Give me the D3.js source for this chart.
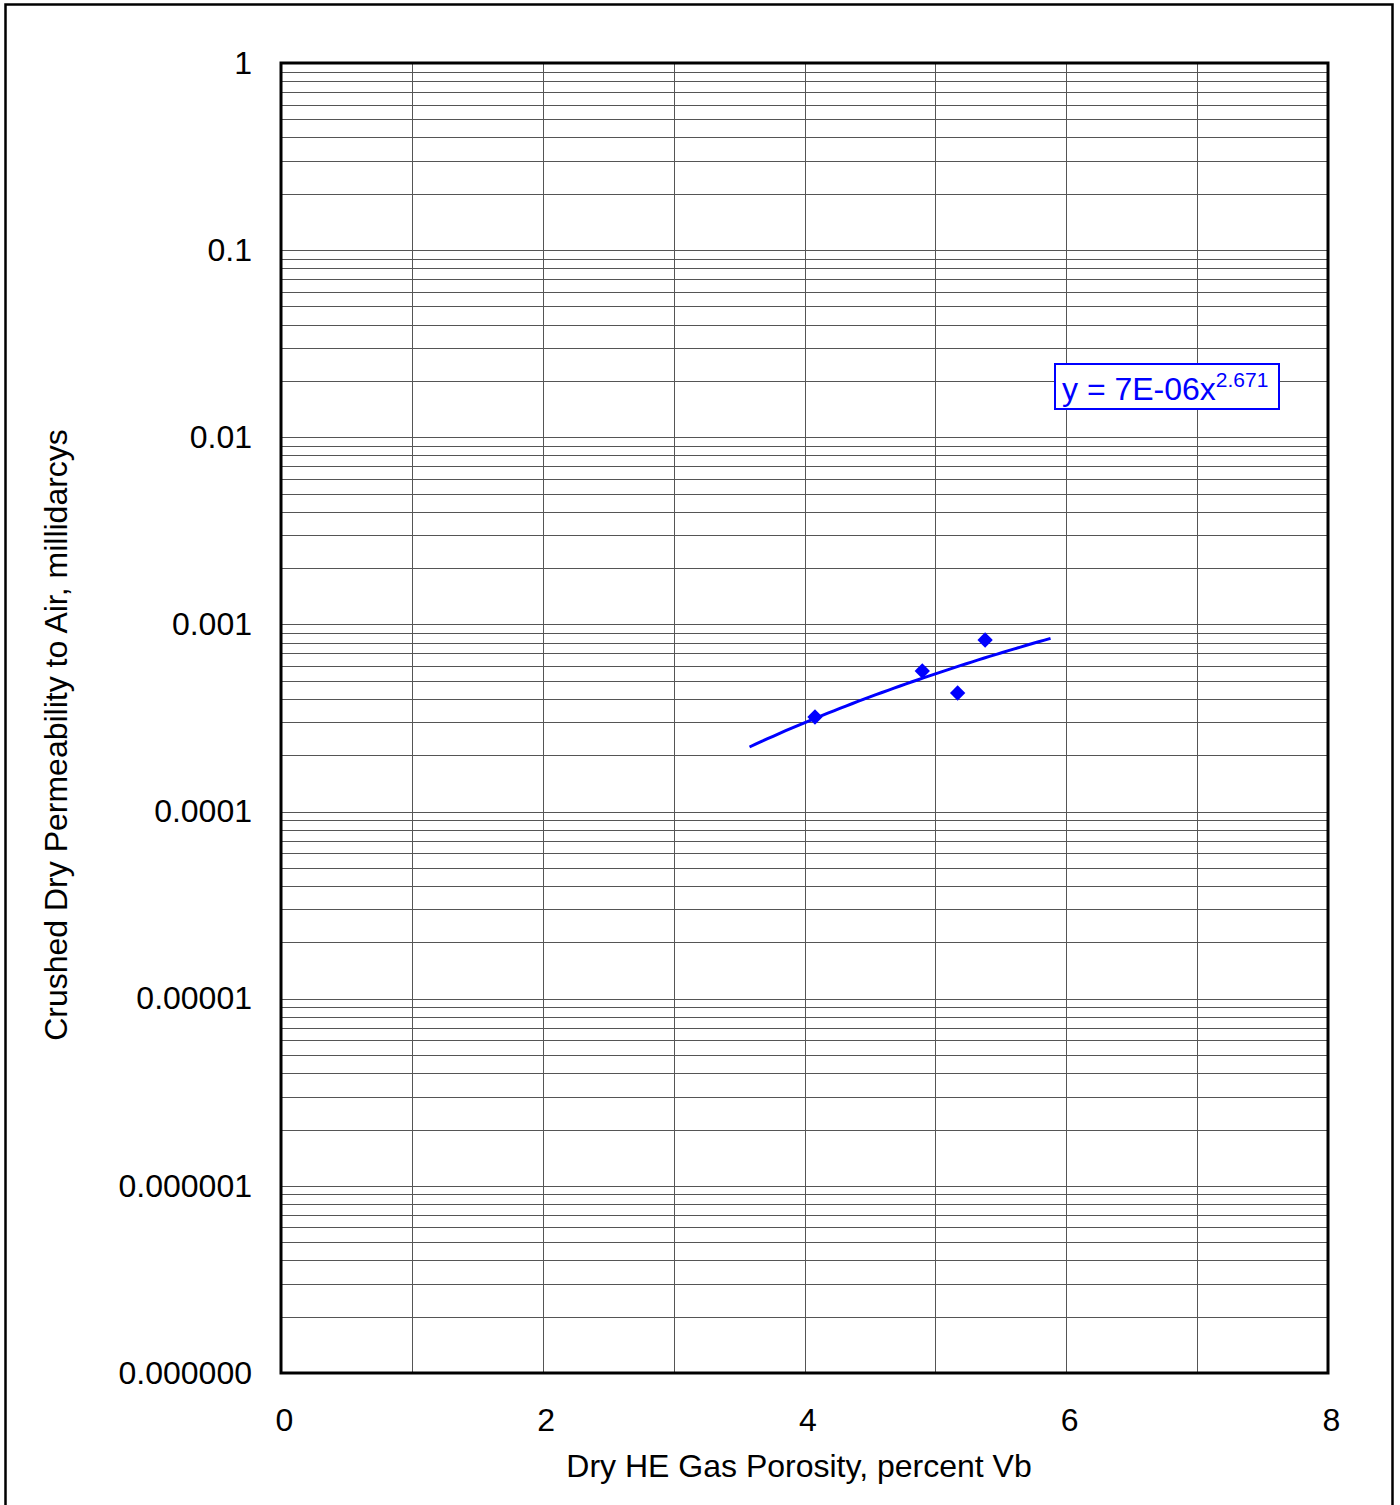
<!DOCTYPE html>
<html>
<head>
<meta charset="utf-8">
<script src="https://cdn.jsdelivr.net/npm/d3@7"></script>
<style>
  body { margin: 0; background: #fff; }
  svg { display: block; font-family: 'Liberation Sans', Arial, sans-serif; }
</style>
</head>
<body>
<svg></svg>
<script>
// data
const porosity = [4.08, 4.90, 5.17, 5.38]
const permeability = [0.00032, 0.000564, 0.00043, 0.000826]
const xTicks = [0, 2, 4, 6, 8]
const yTicks = [1e-7, 1e-6, 1e-5, 1e-4, 1e-3, 1e-2, 1e-1, 1]
const yTickLabels = ['0.000000', '0.000001', '0.00001', '0.0001', '0.001', '0.01', '0.1', '1']
const trendForecast = [0.5, 0.5] // backward, forward
const equationText = 'y = 7E-06x'
const equationPower = '2.671'

const width = 1400
const height = 1505
const plot = { left: 281, top: 63, right: 1328, bottom: 1373 }
const blue = '#0000ff'
const fontSize = 32

const svg = d3.select('svg')
  .attr('width', width)
  .attr('height', height)

// outer frame (bottom edge runs off the page)
svg.append('rect')
  .attr('x', 5.5).attr('y', 4.5)
  .attr('width', 1387).attr('height', 1520)
  .attr('fill', 'none')
  .attr('stroke', '#000')
  .attr('stroke-width', 2.5)

const xScale = d3.scaleLinear().domain([0, 8]).range([plot.left, plot.right])
const yScale = d3.scaleLog().domain([1e-7, 1]).range([plot.bottom, plot.top])

// gridlines: minor 2..9 in each decade plus decades
const hLines = []
for (let e = -7; e < 0; e++) {
  for (let k = 1; k <= 9; k++) hLines.push(k * Math.pow(10, e))
}
const grid = svg.append('g').attr('shape-rendering', 'crispEdges')
grid.selectAll('.hgrid')
  .data(hLines)
  .enter()
  .append('line')
  .attr('class', 'hgrid')
  .attr('x1', plot.left).attr('x2', plot.right)
  .attr('y1', (d) => Math.round(yScale(d)) + 0.5)
  .attr('y2', (d) => Math.round(yScale(d)) + 0.5)
  .attr('stroke', '#555')
  .attr('stroke-width', 1)

grid.selectAll('.vgrid')
  .data(d3.range(1, 8))
  .enter()
  .append('line')
  .attr('class', 'vgrid')
  .attr('y1', plot.top).attr('y2', plot.bottom)
  .attr('x1', (d) => Math.round(xScale(d)) + 0.5)
  .attr('x2', (d) => Math.round(xScale(d)) + 0.5)
  .attr('stroke', '#555')
  .attr('stroke-width', 1)

// plot border
svg.append('rect')
  .attr('x', plot.left).attr('y', plot.top)
  .attr('width', plot.right - plot.left)
  .attr('height', plot.bottom - plot.top)
  .attr('fill', 'none')
  .attr('stroke', '#000')
  .attr('stroke-width', 3)

// axes (labels only, no tick marks)
const yAxis = d3.axisLeft(yScale)
  .tickValues(yTicks)
  .tickFormat((d, i) => yTickLabels[i])
  .tickSize(0)
  .tickPadding(29)
svg.append('g')
  .attr('transform', 'translate(' + plot.left + ',0)')
  .call(yAxis)
  .call((g) => g.select('.domain').remove())
  .selectAll('text')
  .attr('font-size', fontSize)
  .attr('font-family', 'Liberation Sans, Arial, sans-serif')
  .attr('fill', '#000')

const xAxis = d3.axisBottom(xScale)
  .tickValues(xTicks)
  .tickFormat(d3.format('d'))
  .tickSize(0)
  .tickPadding(35)
svg.append('g')
  .attr('transform', 'translate(3,' + plot.bottom + ')')
  .call(xAxis)
  .call((g) => g.select('.domain').remove())
  .selectAll('text')
  .attr('font-size', fontSize)
  .attr('font-family', 'Liberation Sans, Arial, sans-serif')
  .attr('fill', '#000')

// axis titles
svg.append('text')
  .attr('x', 799).attr('y', 1477)
  .attr('text-anchor', 'middle')
  .attr('font-size', fontSize)
  .text('Dry HE Gas Porosity, percent Vb')

svg.append('text')
  .attr('transform', 'translate(67,735) rotate(-90)')
  .attr('text-anchor', 'middle')
  .attr('font-size', fontSize)
  .text('Crushed Dry Permeability to Air, millidarcys')

// power trendline: least squares on ln x / ln y
const lx = porosity.map(Math.log)
const ly = permeability.map(Math.log)
const mx = d3.mean(lx)
const my = d3.mean(ly)
const b = d3.sum(lx, (v, i) => (v - mx) * (ly[i] - my)) / d3.sum(lx, (v) => (v - mx) * (v - mx))
const a = Math.exp(my - b * mx)
const x0 = d3.min(porosity) - trendForecast[0]
const x1 = d3.max(porosity) + trendForecast[1]
const trend = d3.range(0, 51).map((i) => {
  const x = x0 + (x1 - x0) * i / 50
  return [x, a * Math.pow(x, b)]
})

const line = d3.line()
  .x((d) => xScale(d[0]))
  .y((d) => yScale(d[1]))
svg.append('path')
  .datum(trend)
  .attr('d', line)
  .attr('fill', 'none')
  .attr('stroke', blue)
  .attr('stroke-width', 3)

// markers
svg.selectAll('.pt')
  .data(porosity)
  .enter()
  .append('path')
  .attr('class', 'pt')
  .attr('d', d3.symbol().type(d3.symbolDiamond2).size(150))
  .attr('transform', (d, i) => 'translate(' + xScale(d) + ',' + yScale(permeability[i]) + ')')
  .attr('fill', blue)

// equation label
const eq = svg.append('g')
eq.append('rect')
  .attr('x', 1055).attr('y', 364)
  .attr('width', 224).attr('height', 45)
  .attr('fill', '#fff')
  .attr('stroke', blue)
  .attr('stroke-width', 2)
const eqText = eq.append('text')
  .attr('x', 1062).attr('y', 400)
  .attr('font-size', fontSize)
  .attr('fill', blue)
eqText.append('tspan').text(equationText)
eqText.append('tspan')
  .attr('dy', -13)
  .attr('font-size', 21)
  .text(equationPower)
</script>
</body>
</html>
